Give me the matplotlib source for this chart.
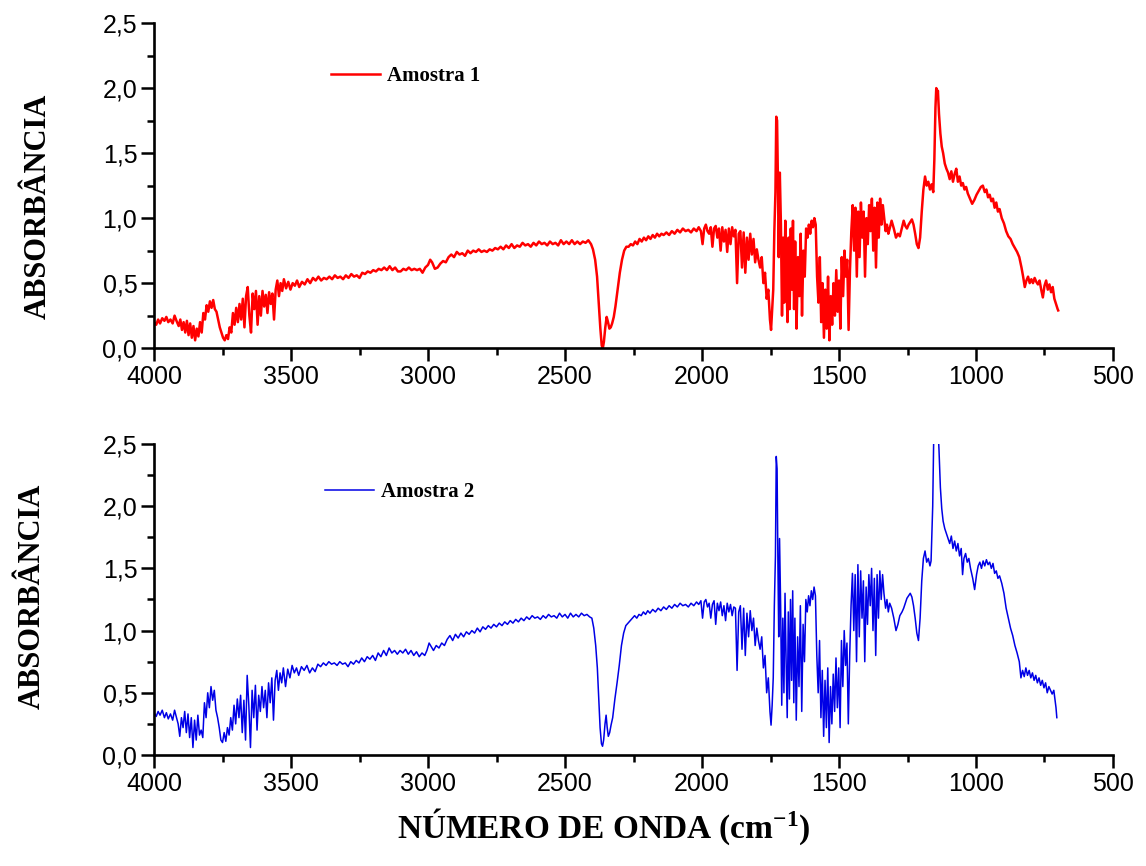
import numpy as np
import matplotlib.pyplot as plt
from matplotlib.ticker import MultipleLocator, FuncFormatter

# (numero de onda, absorbancia)
amostra1 = [
    (4000, 0.20), (3992, 0.18), (3985, 0.22), (3978, 0.19), (3970, 0.23), (3962, 0.21),
    (3955, 0.24), (3948, 0.20), (3940, 0.22), (3932, 0.19), (3925, 0.25), (3918, 0.21),
    (3910, 0.17), (3904, 0.22), (3898, 0.14), (3892, 0.20), (3886, 0.12), (3880, 0.21),
    (3874, 0.10), (3868, 0.19), (3862, 0.08), (3856, 0.17), (3850, 0.06), (3844, 0.15),
    (3838, 0.09), (3832, 0.20), (3826, 0.12), (3820, 0.27), (3814, 0.22), (3808, 0.33),
    (3802, 0.28), (3796, 0.36), (3790, 0.31), (3784, 0.37), (3778, 0.30), (3772, 0.28),
    (3766, 0.22), (3760, 0.16), (3754, 0.12), (3748, 0.08), (3742, 0.06), (3736, 0.10),
    (3730, 0.07), (3724, 0.16), (3718, 0.12), (3712, 0.27), (3706, 0.18), (3700, 0.31),
    (3694, 0.20), (3688, 0.34), (3682, 0.22), (3676, 0.38), (3670, 0.16), (3664, 0.40),
    (3658, 0.47), (3652, 0.25), (3646, 0.12), (3640, 0.42), (3634, 0.30), (3628, 0.44),
    (3622, 0.18), (3616, 0.40), (3610, 0.25), (3604, 0.44), (3598, 0.32), (3592, 0.41),
    (3586, 0.27), (3580, 0.43), (3574, 0.34), (3568, 0.42), (3562, 0.22), (3556, 0.45),
    (3550, 0.52), (3544, 0.40), (3538, 0.50), (3532, 0.44), (3526, 0.53), (3518, 0.46),
    (3510, 0.51), (3502, 0.45), (3494, 0.50), (3486, 0.48), (3478, 0.52), (3470, 0.47),
    (3460, 0.51), (3450, 0.49), (3440, 0.53), (3430, 0.50), (3420, 0.54), (3410, 0.52),
    (3400, 0.55), (3390, 0.52), (3380, 0.54), (3370, 0.53), (3360, 0.55), (3350, 0.53),
    (3340, 0.56), (3330, 0.54), (3320, 0.55), (3310, 0.53), (3300, 0.56), (3290, 0.54),
    (3280, 0.57), (3270, 0.55), (3260, 0.56), (3250, 0.54), (3240, 0.58), (3230, 0.57),
    (3220, 0.59), (3210, 0.58), (3200, 0.60), (3190, 0.59), (3180, 0.61), (3170, 0.60),
    (3160, 0.62), (3150, 0.60), (3140, 0.63), (3130, 0.60), (3120, 0.62), (3110, 0.59),
    (3100, 0.59), (3090, 0.61), (3080, 0.60), (3070, 0.62), (3060, 0.60), (3050, 0.61),
    (3040, 0.60), (3030, 0.61), (3020, 0.58), (3010, 0.62), (3000, 0.64), (2992, 0.68),
    (2985, 0.66), (2975, 0.61), (2965, 0.62), (2955, 0.65), (2945, 0.67), (2935, 0.66),
    (2925, 0.70), (2915, 0.72), (2905, 0.70), (2895, 0.74), (2885, 0.72), (2875, 0.73),
    (2865, 0.71), (2855, 0.75), (2845, 0.73), (2835, 0.75), (2825, 0.74), (2815, 0.76),
    (2805, 0.74), (2795, 0.75), (2785, 0.74), (2775, 0.76), (2765, 0.75), (2755, 0.77),
    (2745, 0.76), (2735, 0.78), (2725, 0.76), (2715, 0.79), (2705, 0.77), (2695, 0.80),
    (2685, 0.77), (2675, 0.79), (2665, 0.78), (2655, 0.81), (2645, 0.79), (2635, 0.80),
    (2625, 0.78), (2615, 0.81), (2605, 0.79), (2595, 0.82), (2585, 0.80), (2575, 0.81),
    (2565, 0.79), (2555, 0.82), (2545, 0.80), (2535, 0.81), (2525, 0.79), (2515, 0.83),
    (2505, 0.80), (2495, 0.82), (2485, 0.80), (2475, 0.83), (2465, 0.80), (2455, 0.82),
    (2445, 0.80), (2435, 0.82), (2425, 0.81), (2415, 0.83), (2405, 0.80), (2398, 0.76),
    (2390, 0.68), (2383, 0.55), (2377, 0.35), (2371, 0.15), (2366, 0.02), (2362, 0.00),
    (2358, 0.05), (2353, 0.16), (2348, 0.24), (2343, 0.20), (2338, 0.15), (2333, 0.16),
    (2328, 0.19), (2322, 0.24), (2316, 0.32), (2308, 0.45), (2300, 0.58), (2292, 0.68),
    (2284, 0.75), (2276, 0.78), (2268, 0.78), (2260, 0.80), (2252, 0.79), (2244, 0.82),
    (2236, 0.80), (2228, 0.84), (2220, 0.82), (2212, 0.85), (2204, 0.83), (2196, 0.86),
    (2188, 0.84), (2180, 0.87), (2172, 0.85), (2164, 0.88), (2156, 0.86), (2148, 0.88),
    (2140, 0.87), (2130, 0.89), (2120, 0.87), (2110, 0.90), (2100, 0.88), (2090, 0.91),
    (2080, 0.89), (2070, 0.92), (2060, 0.90), (2050, 0.91), (2040, 0.89), (2030, 0.92),
    (2020, 0.90), (2012, 0.93), (2004, 0.90), (1998, 0.80), (1992, 0.92), (1986, 0.95),
    (1980, 0.90), (1974, 0.88), (1968, 0.93), (1962, 0.78), (1956, 0.92), (1950, 0.94),
    (1944, 0.85), (1938, 0.92), (1932, 0.75), (1926, 0.93), (1920, 0.82), (1914, 0.91),
    (1908, 0.74), (1902, 0.92), (1896, 0.80), (1890, 0.93), (1884, 0.86), (1878, 0.91),
    (1872, 0.50), (1866, 0.88), (1860, 0.90), (1854, 0.62), (1848, 0.89), (1842, 0.58),
    (1836, 0.85), (1830, 0.68), (1824, 0.88), (1818, 0.72), (1812, 0.84), (1806, 0.66),
    (1800, 0.76), (1794, 0.68), (1788, 0.62), (1782, 0.70), (1776, 0.50), (1770, 0.58),
    (1764, 0.38), (1758, 0.45), (1752, 0.22), (1748, 0.14), (1744, 0.30), (1740, 0.45),
    (1736, 0.90), (1732, 1.20), (1729, 1.78), (1726, 1.75), (1723, 1.30), (1720, 0.70),
    (1716, 1.35), (1712, 0.95), (1708, 0.25), (1704, 0.85), (1700, 0.35), (1696, 0.98),
    (1692, 0.55), (1688, 0.20), (1684, 0.85), (1680, 0.30), (1676, 0.92), (1672, 0.45),
    (1668, 0.98), (1664, 0.30), (1660, 0.82), (1655, 0.15), (1650, 0.70), (1645, 0.40),
    (1640, 0.88), (1635, 0.25), (1630, 0.75), (1625, 0.55), (1620, 0.92), (1615, 0.85),
    (1610, 0.95), (1605, 0.88), (1600, 0.98), (1595, 0.93), (1590, 1.00), (1585, 0.95),
    (1580, 0.55), (1575, 0.35), (1570, 0.70), (1565, 0.20), (1560, 0.50), (1555, 0.08),
    (1550, 0.45), (1545, 0.15), (1540, 0.55), (1535, 0.06), (1530, 0.40), (1525, 0.18),
    (1520, 0.50), (1515, 0.25), (1510, 0.60), (1505, 0.28), (1500, 0.52), (1495, 0.15),
    (1490, 0.70), (1485, 0.40), (1480, 0.75), (1475, 0.55), (1470, 0.68), (1465, 0.14),
    (1460, 0.60), (1455, 0.90), (1450, 1.10), (1445, 0.75), (1440, 1.08), (1435, 0.55),
    (1430, 1.05), (1425, 0.70), (1420, 1.12), (1415, 0.85), (1410, 1.05), (1405, 0.55),
    (1400, 1.00), (1395, 0.80), (1390, 1.10), (1385, 0.90), (1380, 1.15), (1375, 0.75),
    (1370, 1.08), (1365, 0.62), (1360, 1.12), (1355, 0.85), (1350, 1.15), (1345, 0.95),
    (1340, 1.10), (1335, 1.00), (1330, 0.90), (1325, 0.95), (1320, 0.88), (1315, 0.92),
    (1308, 0.98), (1300, 0.92), (1292, 0.85), (1285, 0.88), (1278, 0.86), (1270, 0.93),
    (1264, 0.98), (1258, 0.94), (1252, 0.92), (1246, 0.95), (1240, 0.97), (1234, 0.99),
    (1228, 0.95), (1222, 0.88), (1216, 0.80), (1210, 0.77), (1204, 0.85), (1198, 1.05),
    (1192, 1.22), (1186, 1.32), (1180, 1.25), (1174, 1.28), (1168, 1.22), (1162, 1.26),
    (1156, 1.20), (1152, 1.45), (1148, 1.85), (1145, 2.00), (1142, 1.95), (1139, 1.98),
    (1135, 1.80), (1130, 1.65), (1125, 1.55), (1120, 1.50), (1114, 1.42), (1108, 1.38),
    (1102, 1.35), (1096, 1.30), (1090, 1.36), (1084, 1.28), (1078, 1.34), (1072, 1.38),
    (1066, 1.28), (1060, 1.32), (1054, 1.25), (1048, 1.27), (1042, 1.22), (1036, 1.24),
    (1030, 1.19), (1022, 1.15), (1014, 1.11), (1006, 1.14), (998, 1.18), (990, 1.21),
    (982, 1.24), (975, 1.25), (968, 1.20), (962, 1.22), (956, 1.16), (950, 1.18),
    (944, 1.13), (938, 1.15), (932, 1.08), (926, 1.12), (920, 1.05), (914, 1.07),
    (906, 1.00), (898, 0.96), (890, 0.90), (882, 0.86), (874, 0.84), (866, 0.80),
    (858, 0.77), (850, 0.74), (842, 0.70), (834, 0.62), (828, 0.55), (822, 0.47),
    (816, 0.52), (810, 0.55), (804, 0.50), (798, 0.53), (792, 0.50), (786, 0.54),
    (780, 0.51), (774, 0.49), (768, 0.52), (762, 0.45), (756, 0.39), (750, 0.48),
    (744, 0.52), (738, 0.45), (732, 0.49), (726, 0.43), (720, 0.47), (714, 0.38),
    (708, 0.34), (702, 0.30), (700, 0.29),
]

amostra2 = [
    (4000, 0.34), (3992, 0.31), (3985, 0.35), (3978, 0.32), (3970, 0.36), (3962, 0.30),
    (3955, 0.34), (3948, 0.29), (3940, 0.33), (3932, 0.28), (3925, 0.36), (3918, 0.30),
    (3912, 0.25), (3906, 0.15), (3900, 0.30), (3894, 0.22), (3888, 0.35), (3882, 0.18),
    (3876, 0.33), (3870, 0.14), (3864, 0.30), (3858, 0.06), (3852, 0.28), (3846, 0.12),
    (3840, 0.32), (3834, 0.16), (3828, 0.20), (3822, 0.14), (3816, 0.42), (3810, 0.30),
    (3804, 0.50), (3798, 0.38), (3792, 0.55), (3786, 0.44), (3780, 0.52), (3774, 0.36),
    (3768, 0.30), (3762, 0.22), (3756, 0.12), (3750, 0.10), (3744, 0.18), (3738, 0.11),
    (3732, 0.22), (3726, 0.16), (3720, 0.30), (3714, 0.20), (3708, 0.40), (3702, 0.25),
    (3696, 0.45), (3690, 0.30), (3684, 0.48), (3678, 0.18), (3672, 0.44), (3666, 0.12),
    (3660, 0.64), (3654, 0.40), (3648, 0.06), (3642, 0.52), (3636, 0.30), (3630, 0.56),
    (3624, 0.20), (3618, 0.48), (3612, 0.35), (3606, 0.55), (3600, 0.38), (3594, 0.52),
    (3588, 0.30), (3582, 0.58), (3576, 0.42), (3570, 0.62), (3564, 0.28), (3558, 0.60),
    (3552, 0.68), (3546, 0.52), (3540, 0.66), (3534, 0.58), (3528, 0.70), (3520, 0.55),
    (3512, 0.69), (3504, 0.62), (3496, 0.72), (3488, 0.66), (3480, 0.70), (3472, 0.64),
    (3462, 0.71), (3452, 0.68), (3442, 0.72), (3432, 0.66), (3422, 0.70), (3412, 0.67),
    (3402, 0.73), (3392, 0.71), (3382, 0.74), (3372, 0.72), (3362, 0.75), (3352, 0.73),
    (3342, 0.74), (3332, 0.72), (3322, 0.75), (3312, 0.73), (3302, 0.74), (3292, 0.71),
    (3282, 0.75), (3272, 0.73), (3262, 0.76), (3252, 0.74), (3242, 0.78), (3232, 0.75),
    (3222, 0.79), (3212, 0.77), (3202, 0.80), (3192, 0.76), (3182, 0.82), (3172, 0.79),
    (3162, 0.84), (3152, 0.80), (3142, 0.86), (3132, 0.82), (3122, 0.84), (3112, 0.81),
    (3102, 0.84), (3092, 0.82), (3082, 0.85), (3072, 0.81), (3062, 0.84), (3052, 0.80),
    (3042, 0.83), (3032, 0.79), (3022, 0.82), (3012, 0.80), (3004, 0.84), (2996, 0.90),
    (2988, 0.87), (2980, 0.84), (2970, 0.88), (2960, 0.86), (2950, 0.90), (2940, 0.88),
    (2930, 0.93), (2920, 0.96), (2910, 0.92), (2900, 0.97), (2890, 0.94), (2880, 0.98),
    (2870, 0.95), (2860, 0.99), (2850, 0.97), (2840, 1.00), (2830, 0.98), (2820, 1.02),
    (2810, 0.99), (2800, 1.03), (2790, 1.01), (2780, 1.04), (2770, 1.02), (2760, 1.05),
    (2750, 1.03), (2740, 1.06), (2730, 1.04), (2720, 1.07), (2710, 1.05), (2700, 1.08),
    (2690, 1.06), (2680, 1.09), (2670, 1.07), (2660, 1.10), (2650, 1.08), (2640, 1.11),
    (2630, 1.09), (2620, 1.12), (2610, 1.10), (2600, 1.11), (2590, 1.09), (2580, 1.12),
    (2570, 1.10), (2560, 1.13), (2550, 1.11), (2540, 1.12), (2530, 1.10), (2520, 1.14),
    (2510, 1.11), (2500, 1.13), (2490, 1.10), (2480, 1.14), (2470, 1.11), (2460, 1.13),
    (2450, 1.11), (2440, 1.14), (2430, 1.12), (2420, 1.13), (2410, 1.11), (2402, 1.10),
    (2395, 1.02), (2388, 0.88), (2382, 0.70), (2377, 0.45), (2372, 0.22), (2367, 0.09),
    (2363, 0.07), (2359, 0.12), (2354, 0.25), (2350, 0.32), (2346, 0.22), (2342, 0.15),
    (2337, 0.18), (2332, 0.24), (2326, 0.30), (2318, 0.45), (2310, 0.58), (2302, 0.72),
    (2294, 0.88), (2286, 0.98), (2278, 1.04), (2270, 1.06), (2262, 1.08), (2254, 1.10),
    (2246, 1.12), (2238, 1.10), (2230, 1.13), (2222, 1.12), (2214, 1.15), (2206, 1.13),
    (2198, 1.16), (2190, 1.14), (2180, 1.17), (2170, 1.15), (2160, 1.18), (2150, 1.16),
    (2140, 1.19), (2130, 1.17), (2120, 1.20), (2110, 1.18), (2100, 1.21), (2090, 1.19),
    (2080, 1.22), (2070, 1.20), (2060, 1.21), (2050, 1.19), (2040, 1.22), (2030, 1.20),
    (2020, 1.23), (2012, 1.21), (2004, 1.24), (1998, 1.10), (1992, 1.23), (1986, 1.25),
    (1980, 1.19), (1974, 1.22), (1968, 1.10), (1962, 1.21), (1956, 1.24), (1950, 1.05),
    (1944, 1.22), (1938, 1.16), (1932, 1.23), (1926, 1.12), (1920, 1.20), (1914, 1.08),
    (1908, 1.22), (1902, 1.15), (1896, 1.21), (1890, 1.12), (1884, 1.19), (1878, 1.18),
    (1872, 0.68), (1866, 1.15), (1860, 1.20), (1854, 0.85), (1848, 1.18), (1842, 0.80),
    (1836, 1.14), (1830, 0.95), (1824, 1.16), (1818, 1.00), (1812, 1.10), (1806, 0.88),
    (1800, 1.02), (1794, 0.92), (1788, 0.85), (1782, 0.95), (1776, 0.70), (1770, 0.80),
    (1764, 0.50), (1758, 0.62), (1752, 0.35), (1748, 0.24), (1744, 0.40), (1740, 0.62),
    (1736, 1.20), (1732, 1.60), (1729, 2.40), (1726, 2.30), (1723, 1.55), (1720, 0.95),
    (1717, 1.74), (1713, 1.20), (1709, 0.40), (1705, 1.10), (1701, 0.50), (1697, 1.30),
    (1693, 0.75), (1689, 0.30), (1685, 1.15), (1681, 0.45), (1677, 1.25), (1673, 0.60),
    (1669, 1.32), (1665, 0.42), (1661, 1.10), (1656, 0.28), (1651, 0.95), (1646, 0.55),
    (1641, 1.20), (1636, 0.35), (1631, 1.05), (1626, 0.75), (1621, 1.25), (1616, 1.15),
    (1611, 1.28), (1606, 1.20), (1601, 1.32), (1596, 1.25), (1591, 1.35), (1586, 1.28),
    (1581, 0.80), (1576, 0.50), (1571, 0.92), (1566, 0.30), (1561, 0.68), (1556, 0.15),
    (1551, 0.60), (1546, 0.22), (1541, 0.70), (1536, 0.10), (1531, 0.55), (1526, 0.25),
    (1521, 0.65), (1516, 0.35), (1511, 0.78), (1506, 0.38), (1501, 0.70), (1496, 0.22),
    (1491, 0.92), (1486, 0.55), (1481, 1.00), (1476, 0.72), (1471, 0.90), (1466, 0.25),
    (1461, 0.80), (1456, 1.20), (1451, 1.46), (1446, 1.00), (1441, 1.45), (1436, 0.75),
    (1431, 1.53), (1426, 0.95), (1421, 1.48), (1416, 1.10), (1411, 1.40), (1406, 0.75),
    (1401, 1.35), (1396, 1.05), (1391, 1.45), (1386, 1.20), (1381, 1.50), (1376, 1.00),
    (1371, 1.42), (1366, 0.80), (1361, 1.45), (1356, 1.10), (1351, 1.48), (1346, 1.25),
    (1341, 1.45), (1336, 1.30), (1330, 1.18), (1325, 1.25), (1320, 1.15), (1315, 1.22),
    (1308, 1.18), (1300, 1.10), (1292, 1.00), (1285, 1.05), (1278, 1.12), (1270, 1.15),
    (1264, 1.18), (1258, 1.22), (1252, 1.26), (1246, 1.28), (1240, 1.30), (1234, 1.27),
    (1228, 1.20), (1222, 1.10), (1216, 0.98), (1210, 0.92), (1204, 1.10), (1198, 1.40),
    (1192, 1.58), (1186, 1.64), (1180, 1.55), (1174, 1.58), (1168, 1.52), (1164, 1.56),
    (1158, 2.00), (1154, 2.60), (1150, 2.75), (1145, 2.80), (1140, 2.70), (1135, 2.45),
    (1130, 2.15), (1125, 1.98), (1120, 1.88), (1114, 1.82), (1108, 1.78), (1102, 1.74),
    (1096, 1.70), (1090, 1.76), (1084, 1.66), (1078, 1.72), (1072, 1.64), (1066, 1.70),
    (1060, 1.60), (1054, 1.66), (1049, 1.45), (1044, 1.58), (1038, 1.62), (1032, 1.55),
    (1026, 1.58), (1020, 1.50), (1012, 1.42), (1005, 1.33), (998, 1.45), (992, 1.52),
    (986, 1.55), (980, 1.50), (974, 1.56), (968, 1.52), (962, 1.57), (956, 1.53),
    (950, 1.55), (944, 1.50), (938, 1.54), (932, 1.46), (926, 1.48), (920, 1.42),
    (914, 1.44), (906, 1.38), (898, 1.30), (890, 1.18), (882, 1.10), (874, 1.02),
    (866, 0.96), (858, 0.88), (850, 0.82), (842, 0.75), (836, 0.62), (830, 0.68),
    (824, 0.63), (818, 0.70), (812, 0.64), (806, 0.68), (800, 0.62), (794, 0.66),
    (788, 0.60), (782, 0.64), (776, 0.58), (770, 0.62), (764, 0.56), (758, 0.60),
    (752, 0.54), (746, 0.58), (740, 0.50), (734, 0.55), (728, 0.52), (722, 0.49),
    (716, 0.52), (712, 0.45), (708, 0.38), (705, 0.30),
]

series = [
    ('Amostra 1', amostra1, '#ff0000', 1.8),
    ('Amostra 2', amostra2, '#0000e6', 1.1),
]

serif = 'Liberation Serif'
sans = 'Liberation Sans'

fig = plt.figure(figsize=(11.46, 8.66), dpi=100)
ax1 = fig.add_axes([0.1344, 0.598, 0.8368, 0.3753])
ax2 = fig.add_axes([0.1344, 0.1282, 0.8368, 0.3591])

legend_pos = [(0.1846, 0.837), (0.1783, 0.846)]
comma = FuncFormatter(lambda v, p: f'{v:.1f}'.replace('.', ','))

for ax, (name, data, color, lw), lpos in zip([ax1, ax2], series, legend_pos):
    arr = np.array(data)
    ax.plot(arr[:, 0], arr[:, 1], color=color, lw=lw, label=name)
    ax.set_xlim(4000, 500)
    ax.set_ylim(0, 2.5)
    ax.xaxis.set_major_locator(MultipleLocator(500))
    ax.xaxis.set_minor_locator(MultipleLocator(250))
    ax.yaxis.set_major_locator(MultipleLocator(0.5))
    ax.yaxis.set_minor_locator(MultipleLocator(0.25))
    ax.yaxis.set_major_formatter(comma)
    for s in ['top', 'right']:
        ax.spines[s].set_visible(False)
    for s in ['left', 'bottom']:
        ax.spines[s].set_linewidth(1.9)
    ax.tick_params(which='major', direction='out', length=9.5, width=1.8, pad=2.5)
    ax.tick_params(which='minor', direction='out', length=5, width=1.8)
    for lab in ax.get_xticklabels() + ax.get_yticklabels():
        lab.set_fontfamily(sans)
        lab.set_fontsize(18)
    ax.legend(loc='center left', bbox_to_anchor=lpos, frameon=False,
              borderaxespad=0, borderpad=0, handlelength=2.35, handletextpad=0.35,
              prop={'family': serif, 'weight': 'bold', 'size': 15})

plt.rcParams['mathtext.default'] = 'regular'
fig.text(0.0335, 0.762, 'ABSORBÂNCIA', rotation=90, ha='center', va='center',
         family=serif, weight='bold', size=22)
fig.text(0.0285, 0.311, 'ABSORBÂNCIA', rotation=90, ha='center', va='center',
         family=serif, weight='bold', size=22)
fig.text(0.527, 0.045, 'NÚMERO DE ONDA (cm$^{-1}$)', ha='center', va='center',
         family=serif, weight='bold', size=24)

fig.savefig('out.png', dpi=100)
